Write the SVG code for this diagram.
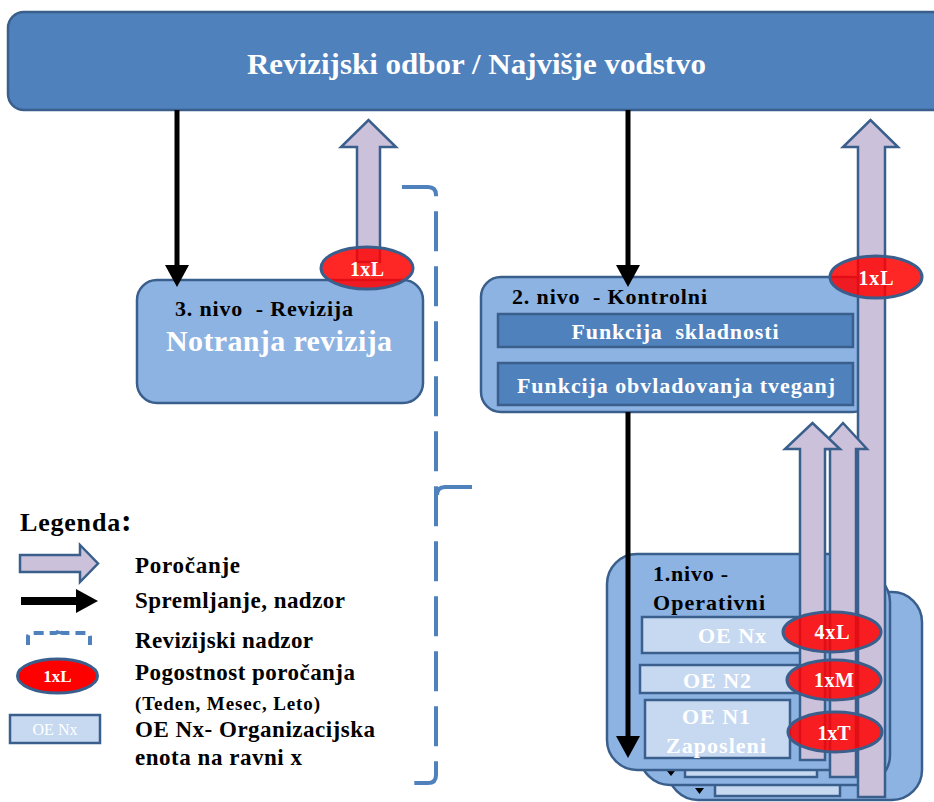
<svg xmlns="http://www.w3.org/2000/svg" width="934" height="802" viewBox="0 0 934 802">
<defs>
<style>
.box{fill:#8DB3E2;stroke:#3A5F8C;stroke-width:2.5}
.dark{fill:#4F81BD;stroke:#3A5F8C;stroke-width:2.5}
.oe{fill:#C6D9F1;stroke:#3A5F8C;stroke-width:2.5}
.rep{fill:#CCC1DA;stroke:#3A5F8C;stroke-width:2.5}
.ctl{stroke:#000;stroke-width:5;fill:none}
.badge{fill:#FF0000;fill-opacity:.85;stroke:#3A5F8C;stroke-width:3}
.t{font-family:"Liberation Serif","Times New Roman",serif;font-weight:bold}
.w{fill:#fff}
.k{fill:#000}
.br{fill:none;stroke:#4F81BD;stroke-width:4}
.pre{white-space:pre}
</style>
<marker id="ah" viewBox="0 0 22 24" markerWidth="22" markerHeight="24" refX="10" refY="12" orient="auto" markerUnits="userSpaceOnUse">
<path d="M0,0 L22,12 L0,24 z" fill="#000"/>
</marker>
</defs>
<rect width="934" height="802" fill="#fff"/>

<g id="top">
<rect class="dark" x="8" y="12" width="940" height="98" rx="16"/>
<text class="t w" x="476.5" y="74" font-size="30" text-anchor="middle" textLength="459" lengthAdjust="spacingAndGlyphs">Revizijski odbor / Najvišje vodstvo</text>
</g>

<g id="nivo3">
<rect class="box" x="137" y="280" width="286" height="123" rx="20"/>
<text class="t k pre" x="175" y="316" font-size="22" textLength="178">3. nivo  - Revizija</text>
<text class="t w" x="166" y="351" font-size="30" textLength="226">Notranja revizija</text>
</g>

<g id="nivo2">
<rect class="box" x="481" y="277" width="392" height="135" rx="20"/>
<text class="t k pre" x="512" y="304" font-size="22" textLength="195">2. nivo  - Kontrolni</text>
<rect class="dark" x="498" y="314" width="355" height="33"/>
<text class="t w pre" x="675" y="339" font-size="22" text-anchor="middle" textLength="207">Funkcija  skladnosti</text>
<rect class="dark" x="498" y="363" width="355" height="42"/>
<text class="t w" x="676" y="393" font-size="22" text-anchor="middle" textLength="318">Funkcija obvladovanja tveganj</text>
</g>

<g id="nivo1-back">
<rect class="box" x="668" y="592" width="254" height="208" rx="30"/>
<rect class="oe" x="715" y="760" width="125" height="36"/>
<polygon points="695,788 704,788 699.5,794" fill="#000"/>
</g>

<g id="nivo1-middle">
<rect class="box" x="640" y="572" width="250" height="213" rx="30"/>
<rect class="oe" x="685" y="740" width="132" height="37"/>
<polygon points="667,771 675,771 671,776" fill="#000"/>
</g>

<g id="nivo1">
<rect class="box" x="607" y="554" width="254" height="216" rx="30"/>
<text class="t k" x="653" y="581" font-size="22" textLength="75">1.nivo -</text>
<text class="t k" x="653" y="610" font-size="22" textLength="112">Operativni</text>
<rect class="oe" x="642" y="617" width="181" height="36"/>
<text class="t w" x="732" y="643" font-size="22" text-anchor="middle" textLength="68">OE Nx</text>
<rect class="oe" x="640" y="665" width="160" height="28"/>
<text class="t w" x="717" y="688" font-size="22" text-anchor="middle" textLength="68">OE N2</text>
<rect class="oe" x="645" y="700" width="145" height="58"/>
<text class="t w" x="716" y="724" font-size="22" text-anchor="middle" textLength="68">OE N1</text>
<text class="t w" x="716" y="753" font-size="22" text-anchor="middle" textLength="100">Zaposleni</text>
</g>

<g id="connectors">
<line class="ctl" x1="177" y1="110" x2="177" y2="275" marker-end="url(#ah)"/>
<line class="ctl" x1="628" y1="110" x2="628" y2="275" marker-end="url(#ah)"/>
<line class="ctl" x1="628" y1="412" x2="628" y2="746" marker-end="url(#ah)"/>
<polygon class="rep" points="357,262 357,147 341,147 368.5,120 396,147 380,147 380,262"/>
<polygon class="rep" points="858,797 858,147 843,147 870.5,120 898,147 885,147 885,797"/>
<polygon class="rep" points="830,777 830,449 819,449 843,423 867,449 856,449 856,777"/>
<polygon class="rep" points="800,760 800,449 785,449 812.5,423 840,449 825,449 825,760"/>
</g>

<g id="bracket">
<path class="br" d="M402,187 H428 Q436,187 436,195 V775 Q436,783 428,783 H404" stroke-dasharray="40 15"/>
<path class="br" d="M472,487 H445 Q437,487 437,495"/>
</g>

<g id="badges">
<g id="badge-3"><ellipse class="badge" cx="367" cy="268" rx="46" ry="21"/>
<text class="t w" x="367" y="276" font-size="20" text-anchor="middle" textLength="34">1xL</text></g>
<g id="badge-2"><ellipse class="badge" cx="876" cy="277" rx="46" ry="21"/>
<text class="t w" x="876" y="285" font-size="20" text-anchor="middle" textLength="35">1xL</text></g>
<g id="badge-nx"><ellipse class="badge" cx="832" cy="632" rx="49" ry="20"/>
<text class="t w" x="832" y="639" font-size="20" text-anchor="middle" textLength="35">4xL</text></g>
<g id="badge-n2"><ellipse class="badge" cx="834" cy="680" rx="47" ry="20"/>
<text class="t w" x="834" y="687" font-size="20" text-anchor="middle" textLength="40">1xM</text></g>
<g id="badge-n1"><ellipse class="badge" cx="835" cy="732" rx="47" ry="20"/>
<text class="t w" x="834" y="740" font-size="20" text-anchor="middle" textLength="33">1xT</text></g>
</g>

<g id="legend">
<text class="t k" x="20" y="531" font-size="26" letter-spacing="0.8">Legenda<tspan font-size="32">:</tspan></text>
<polygon class="rep" points="20,555 80,555 80,545 98,563.5 80,582 80,572 20,572"/>
<text class="t k" x="135" y="573" font-size="23" textLength="105">Poročanje</text>
<line x1="21" y1="601" x2="86" y2="601" stroke="#000" stroke-width="8" marker-end="url(#ah)"/>
<text class="t k" x="135" y="608" font-size="23" textLength="210">Spremljanje, nadzor</text>
<path class="br" d="M28,645 V637 Q28,633 32,633 H55 Q59,633 59,628 Q59,633 63,633 H86 Q90,633 90,637 V645" stroke-dasharray="10 6"/>
<text class="t k" x="135" y="648" font-size="23" textLength="178">Revizijski nadzor</text>
<ellipse cx="57.5" cy="676" rx="40" ry="17" fill="#FF0000" stroke="#3A5F8C" stroke-width="3"/>
<text class="t w" x="57.5" y="682" font-size="17" text-anchor="middle">1xL</text>
<text class="t k" x="135" y="680" font-size="23" textLength="220">Pogostnost poročanja</text>
<text class="t k" x="135" y="710" font-size="19" textLength="185">(Teden, Mesec, Leto)</text>
<rect class="oe" x="10" y="715" width="90" height="28"/>
<text x="55" y="735" font-family="Liberation Serif, serif" font-size="16" fill="#fff" text-anchor="middle">OE Nx</text>
<text class="t k" x="135" y="737" font-size="23" textLength="240">OE Nx- Organizacijska</text>
<text class="t k" x="135" y="765" font-size="23" textLength="167">enota na ravni x</text>
</g>
</svg>
